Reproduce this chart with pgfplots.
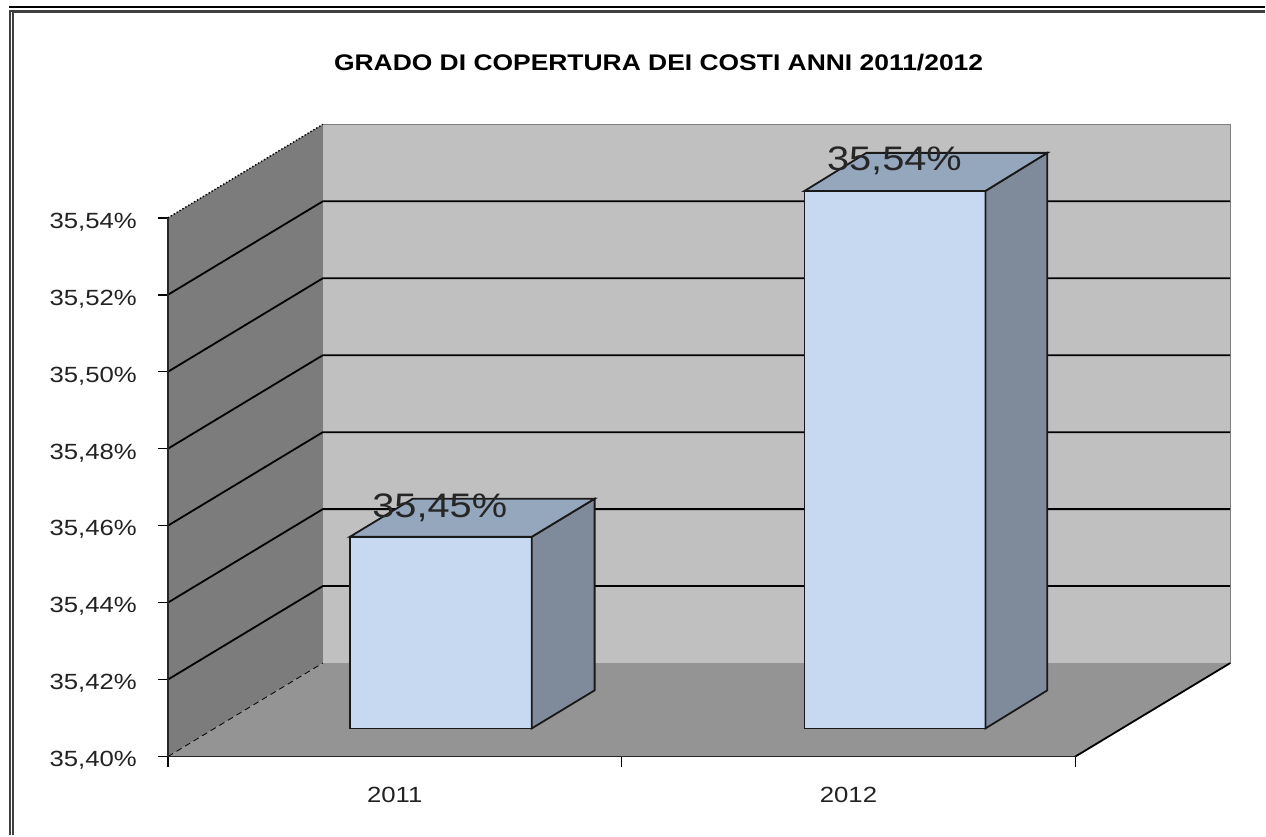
\documentclass[border=0pt]{standalone}
\usepackage{fontspec}
\setmainfont[FakeStretch=1.17]{Liberation Sans}
\usepackage{pgfplots}
\pgfplotsset{compat=1.18}
\definecolor{wall}{HTML}{C0C0C0}
\definecolor{sidewall}{HTML}{7C7C7C}
\definecolor{floorc}{HTML}{949494}
\definecolor{barfront}{HTML}{C6D9F1}
\definecolor{bartop}{HTML}{95A7BD}
\definecolor{barside}{HTML}{7F8B9B}
\definecolor{txt}{HTML}{222222}
\begin{document}
\begin{tikzpicture}[x=0.5pt,y=-0.5pt]
% page size and the frame round the picture, in reference pixels
\path (0,0) rectangle (1266,836);
\fill[black] (9,6) rectangle (1266,8);
\draw[black!75,line width=0.8pt] (10,836) -- (10,11) -- (1266,11);
\draw[black!75,line width=0.8pt] (13,836) -- (13,12) -- (1266,12);
\node[font=\fontsize{11.3}{13}\selectfont\bfseries,text=black] at (659,63) {GRADO DI COPERTURA DEI COSTI ANNI 2011/2012};
\begin{axis}[
  at={(84pt,-378.5pt)}, anchor=origin,
  scale only axis, width=454pt, height=269.5pt,
  xmin=0, xmax=2, ymin=35.40, ymax=35.54,
  clip=false, axis on top,
  axis x line=bottom, axis y line=left,
  axis line style={-,black!85,line width=0.9pt},
  xtick={0,1,2}, xticklabels={,,},
  extra x ticks={0.5,1.5}, extra x tick labels={2011,2012},
  extra x tick style={major tick length=0pt},
  ytick={35.40,35.42,35.44,35.46,35.48,35.50,35.52,35.54},
  scaled y ticks=false,
  tick align=outside, major tick length=5pt,
  tick style={black,line width=0.7pt},
  yticklabel style={/pgf/number format/use comma,/pgf/number format/fixed,/pgf/number format/fixed zerofill,/pgf/number format/precision=2,/pgf/number format/assume math mode=true},
  yticklabel={\pgfmathprintnumber{\tick}\%},
  tick label style={font=\fontsize{11}{13}\selectfont,text=txt},
  every x tick label/.append style={yshift=-12pt},
  every y tick label/.append style={xshift=-7pt,yshift=-2pt},
]
% back wall, side wall, floor
\addplot[fill=wall,draw=black!50,line width=0.5pt] coordinates {(0.3414,35.4243) (2.3414,35.4243) (2.3414,35.5643) (0.3414,35.5643)} --cycle;
\addplot[fill=sidewall,draw=none] coordinates {(0,35.40) (0.3414,35.4243) (0.3414,35.5643) (0,35.54)} --cycle;
\addplot[fill=floorc,draw=none] coordinates {(0,35.40) (2,35.40) (2.3414,35.4243) (0.3414,35.4243)} --cycle;
\addplot[black,densely dashed,line width=0.4pt] coordinates {(0,35.40) (0.3414,35.4243)};
\addplot[black,densely dotted,line width=0.7pt] coordinates {(0,35.54) (0.3414,35.5643)};
\addplot[black,line width=0.9pt] coordinates {(2,35.40) (2.3414,35.4243)};
% gridlines on the two walls
\addplot[black,line width=0.9pt] coordinates {(0,35.42) (0.3414,35.4443) (2.3414,35.4443)};
\addplot[black,line width=0.9pt] coordinates {(0,35.44) (0.3414,35.4643) (2.3414,35.4643)};
\addplot[black,line width=0.9pt] coordinates {(0,35.46) (0.3414,35.4843) (2.3414,35.4843)};
\addplot[black,line width=0.9pt] coordinates {(0,35.48) (0.3414,35.5043) (2.3414,35.5043)};
\addplot[black,line width=0.9pt] coordinates {(0,35.50) (0.3414,35.5243) (2.3414,35.5243)};
\addplot[black,line width=0.9pt] coordinates {(0,35.52) (0.3414,35.5443) (2.3414,35.5443)};
% bar 2011
\addplot[fill=barfront,draw=black!90,line width=0.9pt] coordinates {(0.4009,35.4073) (0.8018,35.4073) (0.8018,35.4571) (0.4009,35.4571)} --cycle;
\addplot[fill=barside,draw=black!90,line width=0.9pt] coordinates {(0.8018,35.4073) (0.9405,35.4172) (0.9405,35.4670) (0.8018,35.4571)} --cycle;
\addplot[fill=bartop,draw=black!90,line width=0.9pt] coordinates {(0.4009,35.4571) (0.8018,35.4571) (0.9405,35.4670) (0.5396,35.4670)} --cycle;
% bar 2012
\addplot[fill=barfront,draw=black!90,line width=0.9pt] coordinates {(1.4031,35.4073) (1.8018,35.4073) (1.8018,35.5470) (1.4031,35.5470)} --cycle;
\addplot[fill=barside,draw=black!90,line width=0.9pt] coordinates {(1.8018,35.4073) (1.9383,35.4172) (1.9383,35.5569) (1.8018,35.5470)} --cycle;
\addplot[fill=bartop,draw=black!90,line width=0.9pt] coordinates {(1.4031,35.5470) (1.8018,35.5470) (1.9383,35.5569) (1.5396,35.5569)} --cycle;
\node[font=\fontsize{17}{19}\selectfont,text=black!85] at (axis cs:0.5991,35.4646) {35,45\%};
\node[font=\fontsize{17}{19}\selectfont,text=black!85] at (axis cs:1.6013,35.5548) {35,54\%};
\end{axis}
\end{tikzpicture}
\end{document}
